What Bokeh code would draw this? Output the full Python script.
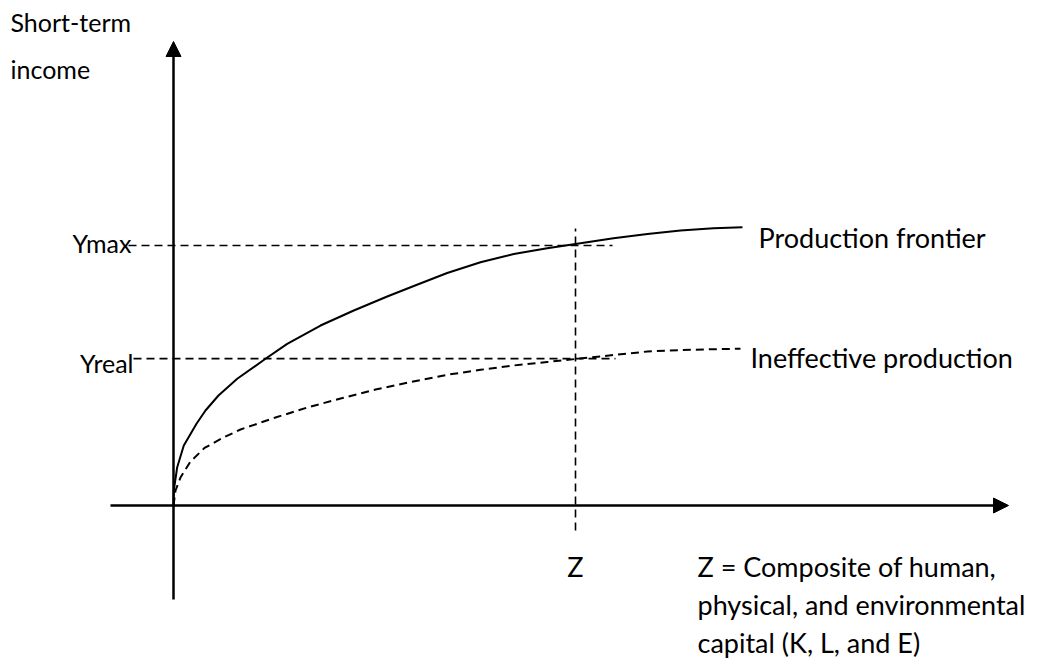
from bokeh.plotting import figure
from bokeh.models import Range1d, Arrow, NormalHead, Label
from bokeh.embed import file_html
from bokeh.resources import INLINE

# ---------------- data (arbitrary units: Z = 10, Ymax = 10) ----------------
frontier_x = [0.0, 0.007, 0.092, 0.256, 0.572, 0.796, 1.119, 1.585, 2.289, 2.828,
              3.657, 4.485, 5.316, 5.978, 6.808, 7.637, 8.465, 9.296, 10.0,
              10.945, 11.791, 12.612, 13.433, 14.154]
frontier_y = [0.0, 0.577, 1.473, 2.308, 3.142, 3.654, 4.231, 4.873, 5.642, 6.219,
              6.923, 7.500, 8.038, 8.442, 8.942, 9.358, 9.673, 9.892, 10.058,
              10.277, 10.438, 10.577, 10.662, 10.700]

ineff_x = [0.0, 0.050, 0.174, 0.423, 0.771, 1.219, 1.667, 2.537, 3.358, 4.204,
           5.025, 5.846, 6.808, 7.637, 8.458, 9.296, 10.0, 10.945, 11.791,
           12.612, 13.433, 14.104]
ineff_y = [0.0, 0.577, 1.077, 1.692, 2.212, 2.596, 2.923, 3.385, 3.781, 4.135,
           4.462, 4.731, 5.027, 5.219, 5.385, 5.519, 5.635, 5.788, 5.923,
           5.977, 6.012, 6.031]

z_value = 10.0
y_max = 10.0
y_real = 5.65

series_labels = ["Production frontier", "Ineffective production"]
y_axis_title = ["Short-term", "income"]
x_axis_note = ["Z = Composite of human,", "physical, and environmental",
               "capital (K, L, and E)"]

# ---------------- layout helpers ----------------
W, H = 1036, 658
PX_X, PX_Y = 40.2, 26.0          # pixels per data unit
OX, OY = 173, 505                # origin position in canvas pixels


def dx(px):
    return (px - OX) / PX_X


def dy(py):
    return (OY - py) / PX_Y


p = figure(width=W, height=H,
           x_range=Range1d(dx(0), dx(W)),
           y_range=Range1d(dy(H), dy(0)),
           output_backend="svg", toolbar_location=None, min_border=0)
p.axis.visible = False
p.grid.visible = False
p.outline_line_color = None
p.background_fill_color = "white"
p.border_fill_color = "white"

FONT = "Lato"
FS_SMALL = "25px"
FS = "27px"

# axes with arrow heads
p.add_layout(Arrow(end=NormalHead(size=15, fill_color="black", line_color="black", line_width=1),
                   x_start=dx(110), y_start=0, x_end=dx(1008), y_end=0,
                   line_width=2.5, line_color="black"))
p.add_layout(Arrow(end=NormalHead(size=15, fill_color="black", line_color="black", line_width=1),
                   x_start=0, y_start=dy(599), x_end=0, y_end=dy(41),
                   line_width=2.5, line_color="black"))

# guide lines
p.line([dx(128), dx(612)], [y_max, y_max], line_color="black", line_width=1.6, line_dash="8 5")
p.line([dx(133), dx(615)], [y_real, y_real], line_color="black", line_width=1.6, line_dash="8 5")
p.line([z_value, z_value], [dy(530), dy(228)], line_color="black", line_width=1.6, line_dash="8 5")

# curves
p.line(frontier_x, frontier_y, line_color="black", line_width=2, line_join="round")
p.line(ineff_x, ineff_y, line_color="black", line_width=2, line_dash="8 5", line_join="round")


def lab(text, x, y, size, align="left"):
    p.add_layout(Label(x=x, y=y, text=text, text_font=FONT, text_font_size=size,
                       text_color="black", text_align=align, text_baseline="alphabetic"))


lab(y_axis_title[0], dx(10), dy(21), FS_SMALL)
lab(y_axis_title[1], dx(10), dy(68), FS_SMALL)
lab("Ymax", dx(131), dy(242), FS_SMALL, "right")
lab("Yreal", dx(133), dy(362), FS_SMALL, "right")
lab(series_labels[0], dx(758), dy(237), FS)
lab(series_labels[1], dx(750), dy(357), FS)
lab("Z", z_value, dy(566), FS, "center")
for i, t in enumerate(x_axis_note):
    lab(t, dx(697), dy(566 + i * 38), FS)

open("out.html", "w").write(file_html(p, INLINE))
